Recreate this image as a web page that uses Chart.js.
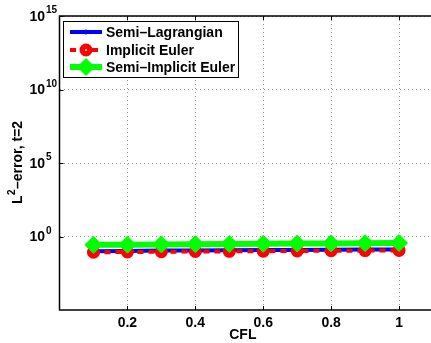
<!DOCTYPE html>
<html>
<head>
<meta charset="utf-8">
<script src="https://cdn.jsdelivr.net/npm/chart.js@4.4.1/dist/chart.umd.min.js"></script>
<style>
    html, body { margin: 0; padding: 0; background: #fff; overflow: hidden; }
    canvas { display: block; }
</style>
</head>
<body>
<canvas id="errChart" width="434" height="343"></canvas>
<script>
// 数据
const cfl = [0.1, 0.2, 0.3, 0.4, 0.5, 0.6, 0.7, 0.8, 0.9, 1.0];
const semiLagrangian = [0.10, 0.105, 0.11, 0.113, 0.117, 0.12, 0.123, 0.127, 0.13, 0.133];
const implicitEuler = [0.085, 0.088, 0.092, 0.095, 0.098, 0.10, 0.104, 0.107, 0.11, 0.113];
const semiImplicitEuler = [0.27, 0.28, 0.29, 0.30, 0.31, 0.32, 0.33, 0.34, 0.35, 0.36];
const xTicks = [0.2, 0.4, 0.6, 0.8, 1];
const yTicks = [1e0, 1e5, 1e10, 1e15];
const seriesNames = ['Semi\u2013Lagrangian', 'Implicit Euler', 'Semi\u2013Implicit Euler'];

const FONT = 'Liberation Sans, Arial, Helvetica, sans-serif';

function pts(ys) {
    return cfl.map((x, i) => ({ x: x, y: ys[i] }));
}

// 外框、刻度文字、图例
const matlabPlugin = {
    id: 'matlab',
    afterDraw(chart) {
        const ctx = chart.ctx;
        const a = chart.chartArea;
        const xs = chart.scales.x;
        const ys = chart.scales.y;
        ctx.save();

        // 内侧刻度线
        ctx.strokeStyle = '#000';
        ctx.lineWidth = 1;
        xTicks.forEach(v => {
            const px = Math.round(xs.getPixelForValue(v)) + 0.5;
            ctx.beginPath();
            ctx.moveTo(px, a.bottom); ctx.lineTo(px, a.bottom - 4);
            ctx.moveTo(px, a.top); ctx.lineTo(px, a.top + 4);
            ctx.stroke();
        });
        yTicks.forEach(v => {
            const py = Math.round(ys.getPixelForValue(v)) + 0.5;
            ctx.beginPath();
            ctx.moveTo(a.left, py); ctx.lineTo(a.left + 4, py);
            ctx.stroke();
        });

        // 外框
        ctx.lineWidth = 1.5;
        ctx.strokeRect(a.left, a.top, a.right - a.left + 5, a.bottom - a.top);

        // x 刻度文字
        ctx.fillStyle = '#000';
        ctx.font = 'bold 14px ' + FONT;
        ctx.textAlign = 'center';
        ctx.textBaseline = 'middle';
        xTicks.forEach(v => {
            ctx.fillText(String(v), xs.getPixelForValue(v), 323);
        });
        ctx.fillText('CFL', xs.getPixelForValue(0.54), 335);

        // y 刻度文字 10^n
        yTicks.forEach(v => {
            const py = ys.getPixelForValue(v);
            const e = Math.round(Math.log10(v));
            ctx.font = 'bold 14px ' + FONT;
            ctx.textAlign = 'right';
            ctx.fillText('10', 45, py + 1);
            ctx.font = 'bold 10px ' + FONT;
            ctx.textAlign = 'left';
            ctx.fillText(String(e), 46, py - 5.5);
        });

        // y 轴标题 L^2-error, t=2
        ctx.save();
        ctx.translate(18, (a.top + a.bottom) / 2);
        ctx.rotate(-Math.PI / 2);
        ctx.textAlign = 'left';
        ctx.font = 'bold 14px ' + FONT;
        const wL = ctx.measureText('L').width;
        const rest = '\u2013error, t=2';
        const wR = ctx.measureText(rest).width;
        ctx.font = 'bold 10px ' + FONT;
        const w2 = ctx.measureText('2').width;
        const x0 = -(wL + w2 + wR) / 2;
        ctx.font = 'bold 14px ' + FONT;
        ctx.fillText('L', x0, 0);
        ctx.font = 'bold 10px ' + FONT;
        ctx.fillText('2', x0 + wL + 0.5, -6);
        ctx.font = 'bold 14px ' + FONT;
        ctx.fillText(rest, x0 + wL + w2 + 1, 0);
        ctx.restore();

        // 图例
        const lx = 63.5, ly = 21.5, lw = 175, lh = 56;
        ctx.fillStyle = '#fff';
        ctx.fillRect(lx, ly, lw, lh);
        ctx.strokeStyle = '#000';
        ctx.lineWidth = 1;
        ctx.strokeRect(lx, ly, lw, lh);
        const rows = [32, 50, 67];
        chart.data.datasets.forEach((ds, i) => {
            const y = rows[i];
            ctx.save();
            ctx.strokeStyle = ds.borderColor;
            ctx.lineWidth = ds.borderWidth;
            ctx.setLineDash(ds.borderDash || []);
            ctx.beginPath();
            ctx.moveTo(70, y); ctx.lineTo(102, y);
            ctx.stroke();
            ctx.restore();
            ctx.fillStyle = ds.pointBackgroundColor;
            ctx.strokeStyle = ds.pointBorderColor;
            ctx.lineWidth = ds.pointBorderWidth;
            ctx.beginPath();
            if (ds.pointStyle === 'rectRot') {
                const r = ds.pointRadius;
                ctx.moveTo(86 - r, y); ctx.lineTo(86, y - r); ctx.lineTo(86 + r, y); ctx.lineTo(86, y + r);
                ctx.closePath();
            } else {
                ctx.arc(86, y, ds.pointRadius, 0, Math.PI * 2);
            }
            ctx.fill();
            ctx.stroke();
            if (i === 1) {
                ctx.fillStyle = '#fff';
                ctx.beginPath();
                ctx.arc(86, y, 1, 0, Math.PI * 2);
                ctx.fill();
            }
            ctx.fillStyle = '#000';
            ctx.font = 'bold 14px ' + FONT;
            ctx.textAlign = 'left';
            ctx.textBaseline = 'middle';
            ctx.fillText(ds.label, 106, y + 1);
        });

        ctx.restore();
    }
};

const ctx = document.getElementById('errChart').getContext('2d');
const errChart = new Chart(ctx, {
    type: 'line',
    data: {
        datasets: [{
            label: seriesNames[0],
            data: pts(semiLagrangian),
            borderColor: '#0000ff',
            backgroundColor: '#0000ff',
            borderWidth: 4,
            pointStyle: 'circle',
            pointRadius: 2,
            pointBorderWidth: 1,
            pointBackgroundColor: '#0000ff',
            pointBorderColor: '#0000ff',
            order: 2
        }, {
            label: seriesNames[1],
            data: pts(implicitEuler),
            borderColor: '#ff0000',
            backgroundColor: '#ff0000',
            borderWidth: 4,
            borderDash: [6, 5],
            pointStyle: 'circle',
            pointRadius: 5.5,
            pointBorderWidth: 2,
            pointBackgroundColor: '#ff0000',
            pointBorderColor: '#ff0000',
            order: 1
        }, {
            label: seriesNames[2],
            data: pts(semiImplicitEuler),
            borderColor: '#00ff00',
            backgroundColor: '#00ff00',
            borderWidth: 6,
            pointStyle: 'rectRot',
            pointRadius: 8.5,
            pointBorderWidth: 1,
            pointBackgroundColor: '#00ff00',
            pointBorderColor: '#00ff00',
            order: 0
        }]
    },
    options: {
        responsive: false,
        animation: false,
        layout: { autoPadding: false, padding: { left: 59.5, top: 16, right: 1, bottom: 33 } },
        plugins: {
            legend: { display: false },
            tooltip: { enabled: false }
        },
        scales: {
            x: {
                type: 'linear',
                min: 0,
                max: 1.1,
                afterBuildTicks: s => { s.ticks = xTicks.map(v => ({ value: v })); },
                ticks: { display: false },
                grid: { color: '#999', lineWidth: 1, drawTicks: false },
                border: { display: false, dash: [1, 3] }
            },
            y: {
                type: 'logarithmic',
                min: 1e-5,
                max: 1e15,
                afterBuildTicks: s => { s.ticks = yTicks.map(v => ({ value: v })); },
                ticks: { display: false },
                grid: { color: '#999', lineWidth: 1, drawTicks: false },
                border: { display: false, dash: [1, 3] }
            }
        }
    },
    plugins: [matlabPlugin]
});
</script>
</body>
</html>
